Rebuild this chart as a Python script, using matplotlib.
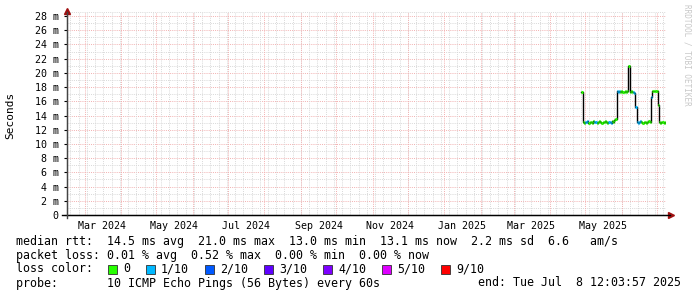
import datetime as dt
import matplotlib
matplotlib.use('Agg')
import matplotlib.pyplot as plt
import matplotlib.dates as mdates
from matplotlib.patches import Rectangle

# median rtt (ms), one value per day from 27 Apr 2025
first_day = dt.datetime(2025, 4, 27, 12)
rtt = [17.3,
       13.1, 13.0, 13.1, 13.1, 13.2, 13.0, 13.1, 13.1, 13.0, 13.2,
       13.1, 13.1, 13.0, 13.1, 13.2, 13.1, 13.0, 13.1, 13.1, 13.2,
       13.1, 13.0, 13.1, 13.1, 13.0, 13.2, 13.1, 13.3, 13.5,
       17.4, 17.3, 17.4, 17.3, 17.4, 17.3, 17.3, 17.4, 17.3, 17.4,
       21.0,
       17.3, 17.4, 17.3, 17.3, 17.2,
       15.2,
       13.1, 13.0, 13.1, 13.2, 13.1, 13.0, 13.1, 13.1, 13.0, 13.1, 13.2, 13.1,
       16.6,
       17.5, 17.4, 17.5, 17.5, 17.4,
       15.5,
       13.1, 13.0, 13.1, 13.1, 13.0, 13.1, 13.1]
# lost pings out of 10, same days
loss = [0,
        0, 0, 1, 1, 1, 0, 0, 0, 0, 0,
        1, 1, 0, 0, 0, 0, 0, 0, 0, 0,
        0, 0, 1, 1, 1, 0, 0, 0, 0,
        1, 1, 1, 0, 0, 0, 0, 0, 0, 0,
        0,
        0, 0, 0, 1, 1,
        1,
        1, 1, 1, 1, 0, 0, 0, 0, 0, 0, 0, 0,
        1,
        0, 0, 0, 0, 0,
        0,
        0, 0, 0, 0, 0, 0, 0]

loss_labels = ['0', '1/10', '2/10', '3/10', '4/10', '5/10', '9/10']
loss_colors = ['#26ff00', '#00b8ff', '#0059ff', '#5e00ff', '#7e00ff', '#dd00ff', '#ff0000']
color_of = {0: '#26ff00', 1: '#00b8ff', 2: '#0059ff', 3: '#5e00ff',
            4: '#7e00ff', 5: '#dd00ff', 9: '#ff0000'}

y_ticks = list(range(0, 29, 2))
y_labels = ['0'] + ['%d m' % v for v in y_ticks[1:]]
x_label_months = [dt.datetime(2024, 3, 16), dt.datetime(2024, 5, 16), dt.datetime(2024, 7, 16),
                  dt.datetime(2024, 9, 16), dt.datetime(2024, 11, 16), dt.datetime(2025, 1, 16),
                  dt.datetime(2025, 3, 16), dt.datetime(2025, 5, 16)]
x_labels = ['Mar 2024', 'May 2024', 'Jul 2024', 'Sep 2024', 'Nov 2024',
            'Jan 2025', 'Mar 2025', 'May 2025']

legend_rtt = 'median rtt:  14.5 ms avg  21.0 ms max  13.0 ms min  13.1 ms now  2.2 ms sd  6.6   am/s'
legend_loss = 'packet loss: 0.01 % avg  0.52 % max  0.00 % min  0.00 % now'
legend_probe = 'probe:       10 ICMP Echo Pings (56 Bytes) every 60s'
legend_end = 'end: Tue Jul  8 12:03:57 2025'

start = dt.datetime(2024, 2, 15, 2)
end = dt.datetime(2025, 7, 8, 12, 3, 57)

W, H = 697, 297
mono = 'DejaVu Sans Mono'
fig = plt.figure(figsize=(W / 100, H / 100), dpi=100)
fig.patch.set_facecolor('white')
ax = fig.add_axes([67 / W, (H - 215) / H, (666 - 67) / W, (215 - 12) / H])
ax.set_xlim(start, end)
ax.set_ylim(0, 203 / 7.107)

# grid
grey = '#d8d8d8'
red = '#f2b0b0'
dots = (0, (1, 1.2))
for v in range(1, 29, 2):
    ax.axhline(v, color=grey, lw=0.7, ls=dots, zorder=0)
for v in y_ticks[1:]:
    ax.axhline(v, color=red, lw=0.7, ls=dots, zorder=0)
ax.axhline(28.5, color=grey, lw=0.7, ls=dots, zorder=0)
weeks = mdates.WeekdayLocator(byweekday=mdates.SU).tick_values(start, end)
months = mdates.MonthLocator().tick_values(start, end)
for w in weeks:
    ax.axvline(w, color=grey, lw=0.7, ls=dots, zorder=0)
for m in months:
    ax.axvline(m, color=red, lw=0.7, ls=dots, zorder=0)

# median line, black connectors then coloured by loss
t = [first_day + dt.timedelta(days=i) for i in range(len(rtt))]
ax.step(t, rtt, where='post', color='black', lw=1.0, zorder=2)
for i in range(len(rtt)):
    ax.hlines(rtt[i], t[i], t[i] + dt.timedelta(days=1), color=color_of[loss[i]], lw=2.2, zorder=3)

# axes
for s in ['top', 'right']:
    ax.spines[s].set_visible(False)
ax.spines['left'].set_color('#444444')
ax.spines['bottom'].set_color('black')
ax.plot([-0.008, 1.006], [0, 0], transform=ax.transAxes, color='black', lw=1, clip_on=False, zorder=4)
ax.plot([0, 0], [-0.015, 1.0], transform=ax.transAxes, color='#444444', lw=1, clip_on=False, zorder=4)
ax.plot([0], [1.005], marker='^', ms=4, color='#a01010', transform=ax.transAxes, clip_on=False)
ax.plot([1.008], [0], marker='>', ms=4, color='#a01010', transform=ax.transAxes, clip_on=False)

ax.set_yticks(y_ticks)
ax.set_yticklabels(y_labels, fontfamily=mono, fontsize=7.2)
ax.set_xticks(x_label_months)
ax.set_xticklabels(x_labels, fontfamily=mono, fontsize=7.2)
ax.tick_params(axis='y', length=2, width=0.8, pad=4, colors='black')
ax.tick_params(axis='x', length=0, pad=4)

fig.text(10 / W, 1 - 115 / H, 'Seconds', rotation=90, ha='center', va='center',
         fontfamily=mono, fontsize=8)
fig.text(687 / W, 1 - 4 / H, 'RRDTOOL / TOBI OETIKER', rotation=270, ha='center', va='top',
         fontfamily=mono, fontsize=5.5, color='#c8c8c8')

# legend
fs = 8.4
fig.text(16 / W, 1 - 241 / H, legend_rtt, ha='left', va='center', fontfamily=mono, fontsize=fs)
fig.text(16 / W, 1 - 255 / H, legend_loss, ha='left', va='center', fontfamily=mono, fontsize=fs)
fig.text(16 / W, 1 - 269 / H, 'loss color:', ha='left', va='center', fontfamily=mono, fontsize=fs)
x = 108
for lab, col in zip(loss_labels, loss_colors):
    fig.patches.append(Rectangle((x / W, 1 - 273.5 / H), 9 / W, 9 / H, transform=fig.transFigure,
                                 facecolor=col, edgecolor='#303030', lw=0.6))
    fig.text((x + 15) / W, 1 - 269 / H, lab, ha='left', va='center', fontfamily=mono, fontsize=fs)
    x += 15 + 7 * len(lab) + 16
fig.text(16 / W, 1 - 283 / H, legend_probe, ha='left', va='center', fontfamily=mono, fontsize=fs)
fig.text(681 / W, 1 - 283 / H, legend_end, ha='right', va='center', fontfamily=mono, fontsize=fs)

fig.savefig('out.png', dpi=100)
